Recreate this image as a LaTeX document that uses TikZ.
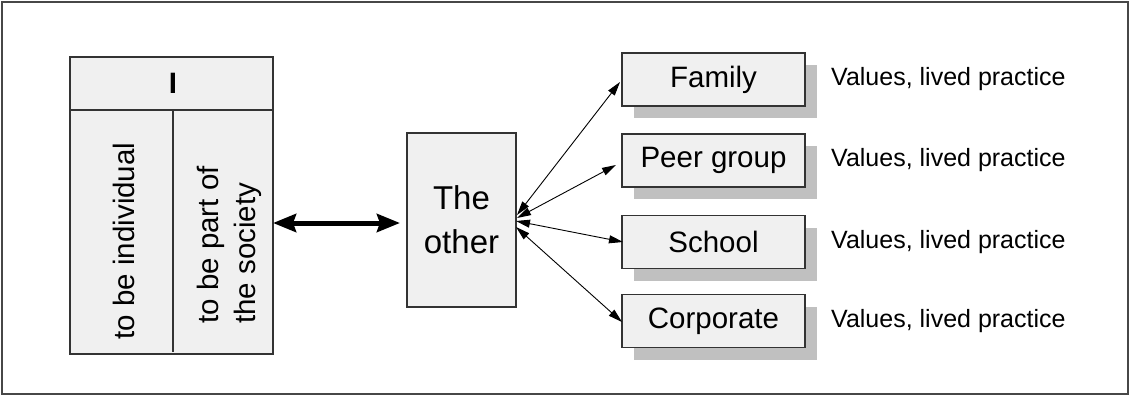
\documentclass[tikz,border=0pt]{standalone}
\usepackage{fontspec}
\setmainfont{Liberation Sans}
\usetikzlibrary{arrows.meta}
\definecolor{boxfill}{HTML}{F0F0F0}
\definecolor{boxline}{HTML}{333333}
\definecolor{shadowgray}{HTML}{C0C0C0}
\begin{document}
\begin{tikzpicture}[x=1pt,y=-1pt,
  boxstyle/.style={draw=boxline, line width=1.4pt, fill=boxfill, inner sep=0pt},
  itemstyle/.style={boxstyle, minimum width=183pt, minimum height=53pt,
    font=\fontsize{29.5}{35}\selectfont},
  shadowstyle/.style={fill=shadowgray, draw=none},
  labelstyle/.style={anchor=west, inner sep=0pt, font=\fontsize{25}{30}\selectfont},
  bigtext/.style={font=\fontsize{29.5}{37}\selectfont, inner sep=0pt},
  thinarrow/.style={line width=0.9pt, {Triangle[length=14pt,width=8pt]}-{Triangle[length=14pt,width=8pt]}},
  thickarrow/.style={line width=5pt, {Stealth[length=23pt,width=18pt,inset=3pt]}-{Stealth[length=23pt,width=18pt,inset=3pt]}}
]
\useasboundingbox (0,0) rectangle (1130,396);
\draw[draw=boxline!90, line width=1.3pt] (2,2) rectangle (1128,394);

% I box
\node[boxstyle, minimum width=203pt, minimum height=297pt] (ibox) at (171.5,205.5) {};
\coordinate (hl) at (70,110);
\coordinate (hr) at (273,110);
\coordinate (vt) at (173,110);
\coordinate (vb) at (173,352);
\draw[boxline, line width=1.4pt] (hl) -- (hr);
\draw[boxline, line width=1.4pt] (vt) -- (vb);
\node[bigtext, font=\fontsize{29.5}{37}\selectfont\bfseries] (itxt) at (173,83) {I};
\node[bigtext, rotate=90] (indiv) at (124,241) {to be individual};
\node[bigtext, rotate=90, align=left] (soc) at (229,245) {to be part of\\the society};

% The other
\node[boxstyle, minimum width=109pt, minimum height=174pt,
  font=\fontsize{33}{44}\selectfont, align=center] (other) at (461.5,220) {The\\other};

% right boxes with shadows
\foreach \nm/\yy/\txt in {family/79.5/Family, peer/160.5/Peer group, school/242/School, corp/321/Corporate}{
  \fill[shadowstyle] (634,\yy-14.5) rectangle (817,\yy+38.5);
  \node[itemstyle] (\nm) at (713.5,\yy) {\txt};
  \node[labelstyle] (\nm lbl) at (831,\yy) {Values, lived practice};
}

% thick double arrow
\coordinate (ta) at (273,223);
\coordinate (tb) at (400,223);
\draw[thickarrow] (ta) -- (tb);

% thin arrows
\coordinate (o1) at (517,215);
\coordinate (o2) at (517,218);
\coordinate (o3) at (516,221);
\coordinate (o4) at (516,227);
\coordinate (e1) at (620,82);
\coordinate (e2) at (616,165);
\coordinate (e3) at (623,242);
\coordinate (e4) at (622,322);
\draw[thinarrow] (o1) -- (e1);
\draw[thinarrow] (o2) -- (e2);
\draw[thinarrow] (o3) -- (e3);
\draw[thinarrow] (o4) -- (e4);
\end{tikzpicture}
\end{document}
